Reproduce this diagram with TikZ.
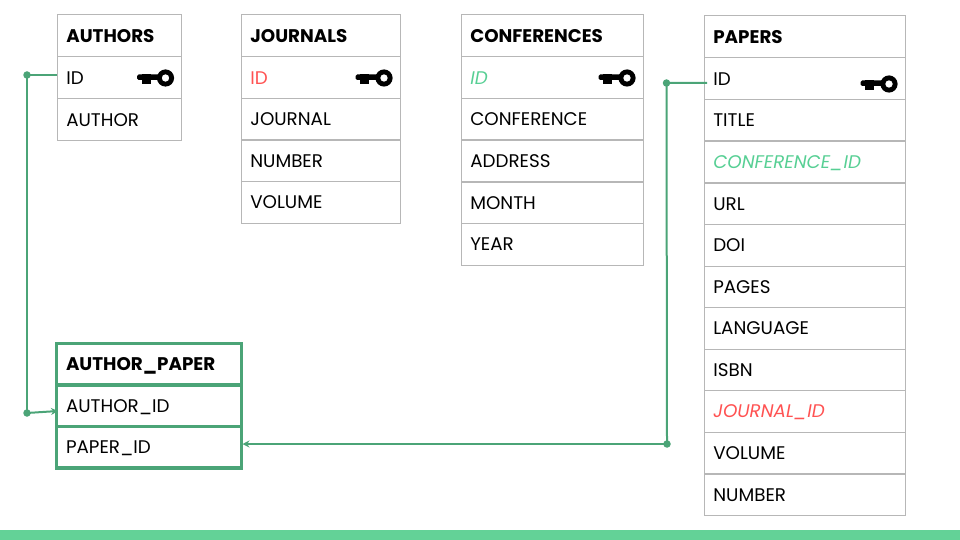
\documentclass[tikz,border=0pt]{standalone}
\usepackage{fontspec}
\setmainfont{Poppins}
\usetikzlibrary{arrows.meta,positioning}
\definecolor{linkgreen}{HTML}{4BA477}
\definecolor{barT}{HTML}{63D297}
\definecolor{cellgray}{HTML}{B7B7B7}
\definecolor{fkred}{HTML}{FF5252}
\definecolor{fkgreen}{HTML}{57CF94}
\newcommand{\tfont}{\fontsize{18.3}{20}\selectfont}
\tikzset{
 x=1pt,y=-1pt,
 cell/.style={draw=cellgray,line width=1pt,anchor=north west,rectangle,inner xsep=9.3pt,inner ysep=0pt,outer sep=0pt,
   minimum height=41.7pt,align=left,text height=13pt,text depth=0pt,font=\tfont,text=black},
 gcell/.style={draw=linkgreen,line width=3.4pt,anchor=north west,rectangle,inner xsep=9.3pt,inner ysep=0pt,outer sep=0pt,
   minimum height=41.5pt,align=left,text height=13pt,text depth=0pt,font=\tfont,text=black},
 link/.style={draw=linkgreen,line width=2pt},
 dot/.style={circle,fill=linkgreen,inner sep=0pt,minimum size=7.5pt},
 title/.style={font=\tfont\bfseries}
}
\newcommand{\keyat}[2]{%
 \begin{scope}[shift={(#1,#2)}]
  \fill[black,even odd rule] (0,0) circle (8.6) (0,0) circle (3.8);
  \fill[black,rounded corners=1.5pt] (-28.5,-3.5) rectangle (-5,2);
  \fill[black] (-24,-3.5) rectangle (-15,6.5);
 \end{scope}}
\begin{document}
\begin{tikzpicture}
\useasboundingbox (0,0) rectangle (960,540);
\fill[barT] (0,530) rectangle (960,540);
% AUTHORS
\foreach \n/\y/\t/\s in {aa/15/AUTHORS/title,ab/57/ID/,ac/99/AUTHOR/}{
 \node[cell,text width=105.4pt,\s] (\n) at (57,\y) {\t};}
\keyat{165.5}{78}
% JOURNALS
\foreach \n/\y/\t/\s in {ja/15/JOURNALS/title,jb/57/{\textcolor{fkred}{ID}}/,jc/98.5/JOURNAL/,jd/140/NUMBER/,je/181.5/VOLUME/}{
 \node[cell,text width=140.4pt,\s] (\n) at (241,\y) {\t};}
\keyat{384}{78}
% CONFERENCES
\foreach \n/\y/\t/\s in {ca/15/CONFERENCES/title,cb/57/{\textcolor{fkgreen}{\itshape ID}}/,cc/98.5/CONFERENCE/,cd/140/ADDRESS/,ce/182/MONTH/,cf/223.5/YEAR/}{
 \node[cell,text width=163.4pt,\s] (\n) at (461,\y) {\t};}
\keyat{627}{78}
% PAPERS
\foreach \n/\y/\t/\s in {pa/16/PAPERS/title,pb/58/ID/,pc/99.5/TITLE/,pd/141/{\textcolor{fkgreen}{\itshape CONFERENCE\_ID}}/,pe/183/URL/,pf/224.5/DOI/,pg/266/PAGES/,ph/307.5/LANGUAGE/,pi/349/ISBN/,pj/390.5/{\textcolor{fkred}{\itshape JOURNAL\_ID}}/,pk/432/VOLUME/,pl/474/NUMBER/}{
 \node[cell,text width=182.4pt,\s] (\n) at (704,\y) {\t};}
\keyat{889}{84}
% AUTHOR_PAPER
\foreach \n/\y/\t/\s in {la/343.3/AUTHOR\_PAPER/title,lb/385/AUTHOR\_ID/,lc/426.3/PAPER\_ID/}{
 \node[gcell,text width=166pt,\s] (\n) at (56.7,\y) {\t};}
% connectors
\node[dot] (d1) at (27,75) {};
\node[dot] (d2) at (27,413) {};
\node[dot] (d3) at (666.5,83) {};
\node[dot] (d4) at (667,444) {};
\coordinate (a1) at (57,75);
\coordinate (a2) at (58,411);
\coordinate (a3) at (707,83);
\coordinate (a4) at (242.5,444);
\draw[link] (a1) -- (d1.center) -- (d2.center);
\draw[link,-{Stealth[length=7pt,width=7pt]}] (d2.center) -- (a2);
\draw[link] (a3) -- (d3.center) -- (d4.center);
\draw[link,-{Stealth[length=7pt,width=7pt]}] (d4.center) -- (a4);
\end{tikzpicture}
\end{document}
